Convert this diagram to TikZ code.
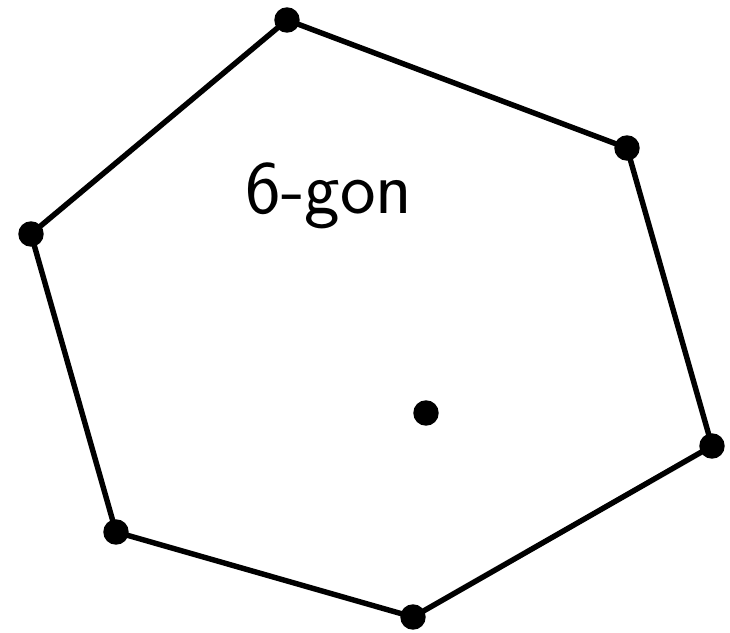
\documentclass[tikz,border=0pt]{standalone}
\usepackage{fontspec}
\begin{document}
\begin{tikzpicture}[x=0.02cm,y=-0.02cm,
  edge/.style={line width=3.1pt, line join=round},
  vdot/.style={circle, fill=black, inner sep=0pt, minimum size=14.5pt},
  lbl/.style={font=\sffamily\fontsize{43}{51}\selectfont, inner sep=0pt, anchor=base}]
\useasboundingbox (0,0) rectangle (730,632);
\coordinate (v1) at (287,20);
\coordinate (v2) at (627,148);
\coordinate (v3) at (712,446);
\coordinate (v4) at (413,617);
\coordinate (v5) at (116,532);
\coordinate (v6) at (31,234);
\draw[edge] (v1) -- (v2) -- (v3) -- (v4) -- (v5) -- (v6) -- cycle;
\foreach \v in {v1,v2,v3,v4,v5,v6} \node[vdot] at (\v) {};
\node[vdot] (c) at (426,413) {};
\node[lbl] (t) at (329,213) {6-gon};
\end{tikzpicture}
\end{document}
